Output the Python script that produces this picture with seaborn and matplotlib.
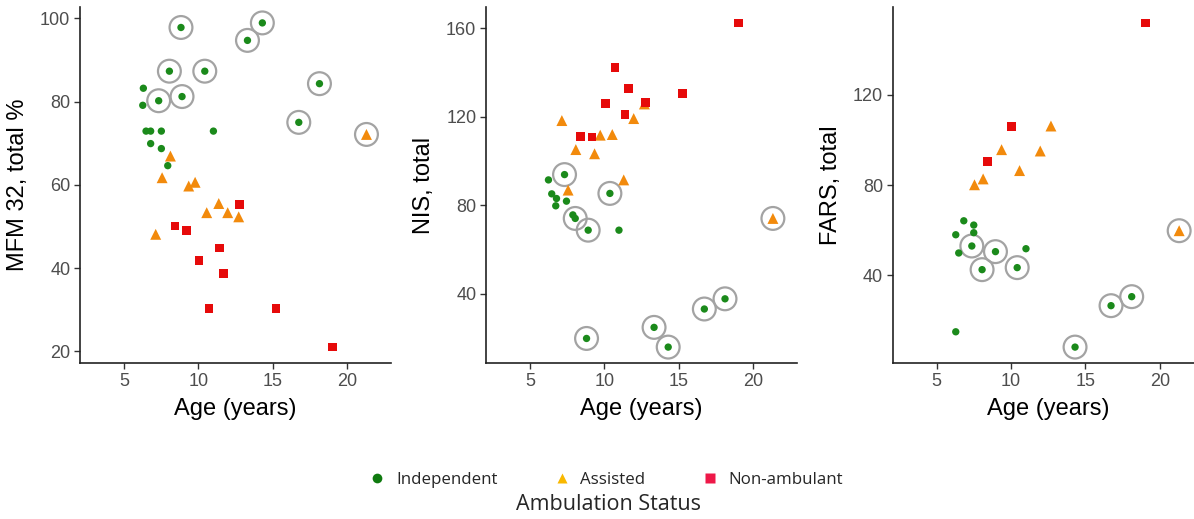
import matplotlib
matplotlib.use("Agg")
import matplotlib.pyplot as plt
import seaborn as sns
import pandas as pd
from matplotlib.lines import Line2D

# ---------------- data ----------------
statuses = ["Independent", "Assisted", "Non-ambulant"]
x_ticks = [5, 10, 15, 20]

# Panel 1: MFM 32
mfm_age = [8.83, 13.30, 14.30, 8.05, 10.43, 18.14, 7.33, 8.90, 16.75, 6.30, 6.26, 6.48, 6.79, 7.51, 6.79, 7.51, 7.94, 11.01,
           21.30, 8.12, 7.56, 9.35, 9.78, 11.37, 10.56, 11.97, 12.71, 7.13,
           12.76, 8.43, 9.19, 11.41, 10.04, 11.70, 10.72, 15.22, 19.01]
mfm_val = [97.8, 94.7, 98.9, 87.3, 87.3, 84.3, 80.2, 81.2, 75.0, 83.2, 79.1, 72.9, 72.9, 72.9, 69.9, 68.7, 64.6, 72.9,
           72.1, 66.9, 61.7, 59.7, 60.6, 55.5, 53.3, 53.3, 52.3, 48.1,
           55.2, 50.1, 49.1, 44.8, 41.8, 38.6, 30.2, 30.2, 21.0]
mfm_status = ["Independent"] * 18 + ["Assisted"] * 10 + ["Non-ambulant"] * 9
mfm_ring = [1] * 9 + [0] * 9 + [1] + [0] * 9 + [0] * 9
mfm_yticks = [20, 40, 60, 80, 100]

# Panel 2: NIS
nis_age = [7.32, 6.24, 6.46, 6.78, 6.73, 7.45, 7.88, 8.04, 8.91, 10.37, 10.98, 8.80, 13.34, 14.29, 16.72, 18.11,
           7.14, 12.69, 11.97, 9.72, 10.53, 8.08, 9.34, 11.30, 7.56, 21.33,
           19.01, 10.71, 11.63, 15.23, 10.06, 12.76, 11.39, 8.40, 9.16]
nis_val = [93.8, 91.4, 85.1, 83.0, 79.7, 81.8, 75.6, 74.0, 68.7, 85.3, 68.7, 19.8, 24.8, 15.9, 33.1, 37.7,
           118.2, 125.7, 119.1, 111.6, 111.9, 105.1, 103.2, 91.4, 86.8, 74.0,
           162.3, 142.1, 132.6, 130.5, 126.0, 126.3, 121.1, 111.1, 110.8]
nis_status = ["Independent"] * 16 + ["Assisted"] * 10 + ["Non-ambulant"] * 9
nis_ring = [1, 0, 0, 0, 0, 0, 0, 1, 1, 1, 0, 1, 1, 1, 1, 1,
            0, 0, 0, 0, 0, 0, 0, 0, 0, 1,
            0, 0, 0, 0, 0, 0, 0, 0, 0]
nis_yticks = [40, 80, 120, 160]

# Panel 3: FARS
fars_age = [6.82, 7.49, 7.49, 6.28, 7.36, 6.48, 8.95, 11.00, 8.05, 10.41, 6.28, 14.30, 16.72, 18.11,
            12.68, 9.36, 11.96, 10.57, 8.12, 7.54, 21.30,
            19.04, 10.05, 8.44]
fars_val = [64.1, 62.2, 58.8, 57.9, 52.9, 49.8, 50.4, 51.7, 42.4, 43.3, 14.8, 8.0, 26.4, 30.4,
            106.2, 95.7, 95.1, 86.4, 82.7, 80.1, 59.7,
            152.0, 105.9, 90.4]
fars_status = ["Independent"] * 14 + ["Assisted"] * 7 + ["Non-ambulant"] * 3
fars_ring = [0, 0, 0, 0, 1, 0, 1, 0, 1, 1, 0, 1, 1, 1,
             0, 0, 0, 0, 0, 0, 1,
             0, 0, 0]
fars_yticks = [40, 80, 120]

# ---------------- style ----------------
sns.set_theme(style="ticks")
plt.rcParams["font.family"] = ["Liberation Sans", "DejaVu Sans"]

point_colors = {"Independent": "#1b8a1b", "Assisted": "#f28a0c", "Non-ambulant": "#e60a0a"}
legend_colors = {"Independent": "#0f7a0f", "Assisted": "#f9b800", "Non-ambulant": "#ee1848"}
markers = {"Independent": "o", "Assisted": "^", "Non-ambulant": "s"}
sizes = {"Independent": 28, "Assisted": 62, "Non-ambulant": 40}

W, H = 1194, 519
fig = plt.figure(figsize=(W / 100, H / 100), dpi=100)

panels = [
    (mfm_age, mfm_val, mfm_status, mfm_ring, mfm_yticks, "MFM 32, total %", 80),
    (nis_age, nis_val, nis_status, nis_ring, nis_yticks, "NIS, total", 486),
    (fars_age, fars_val, fars_status, fars_ring, fars_yticks, "FARS, total", 892.7),
]

ax_w = 311
ax_top, ax_bot = 6.7, 363.3
for age, val, stat, ring, yticks, ylab, left_px in panels:
    ax = fig.add_axes([left_px / W, 1 - ax_bot / H, ax_w / W, (ax_bot - ax_top) / H])
    df = pd.DataFrame({"age": age, "val": val, "status": stat, "ring": ring})
    rings = df[df["ring"] == 1]
    sns.scatterplot(data=rings, x="age", y="val", ax=ax, s=270, facecolor="none",
                    edgecolor="#a3a3a3", linewidth=1.6, legend=False, zorder=2)
    for st in statuses:
        sub = df[df["status"] == st]
        sns.scatterplot(data=sub, x="age", y="val", ax=ax, marker=markers[st],
                        s=sizes[st], color=point_colors[st], edgecolor="none",
                        linewidth=0, legend=False, zorder=3)
    vmin, vmax = min(val), max(val)
    pad = 0.05 * (vmax - vmin)
    ax.set_ylim(vmin - pad, vmax + pad)
    ax.set_xlim(2.04, 22.95)
    ax.set_xticks(x_ticks)
    ax.set_yticks(yticks)
    sns.despine(ax=ax)
    for sp in ("left", "bottom"):
        ax.spines[sp].set_color("#222222")
        ax.spines[sp].set_linewidth(1.2)
    ax.tick_params(axis="both", labelsize=13, labelcolor="#4d4d4d", color="#333333",
                   length=4, width=1.0, pad=3)
    ax.set_xlabel("Age (years)", fontsize=17, color="black", va="center")
    ax.xaxis.set_label_coords(0.5, -0.128)
    ax.set_ylabel(ylab, fontsize=17, color="black", va="center")
    ax.yaxis.set_label_coords(-0.198, 0.5)
    ax.set_facecolor("white")

handles = [Line2D([0], [0], marker=markers[st], linestyle="none", markersize=7 if st != "Assisted" else 7.5,
                  markerfacecolor=legend_colors[st], markeredgecolor="none", label=st)
           for st in statuses]
fig.legend(handles=handles, loc="center", bbox_to_anchor=(606 / W, 1 - 480 / H), ncol=3,
           frameon=False, handlelength=1.0, handletextpad=0.6, columnspacing=3.3,
           prop={"family": "Open Sans", "size": 12.2})
fig.text(608 / W, 1 - 505 / H, "Ambulation Status", ha="center", va="center",
         fontsize=15.5, family="Open Sans")

fig.savefig("out.png", dpi=100, facecolor="white")
